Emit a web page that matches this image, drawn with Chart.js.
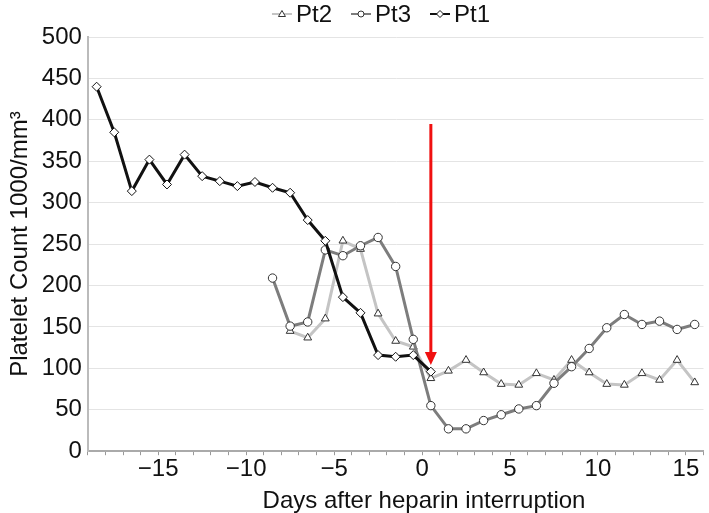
<!DOCTYPE html>
<html>
<head>
<meta charset="utf-8">
<script src="https://cdn.jsdelivr.net/npm/chart.js@4/dist/chart.umd.min.js"></script>
<style>
    html, body { margin: 0; padding: 0; background: #fff; }
    #wrap { width: 709px; height: 513px; }
</style>
</head>
<body>
<div id="wrap"><canvas id="plateletChart" width="709" height="513"></canvas></div>
<script>
// days after heparin interruption
const pt1Days = [-18.5, -17.5, -16.5, -15.5, -14.5, -13.5, -12.5, -11.5, -10.5, -9.5, -8.5, -7.5, -6.5, -5.5, -4.5, -3.5, -2.5, -1.5, -0.5, 0.5];
const pt1Counts = [440, 385, 314, 352, 322, 358, 332, 326, 320, 325, 318, 312, 279, 254, 186, 167, 116, 114, 116, 96];

const pt2Days = [-7.5, -6.5, -5.5, -4.5, -3.5, -2.5, -1.5, -0.5, 0.5, 1.5, 2.5, 3.5, 4.5, 5.5, 6.5, 7.5, 8.5, 9.5, 10.5, 11.5, 12.5, 13.5, 14.5, 15.5];
const pt2Counts = [145, 137, 160, 254, 244, 166, 133, 126, 88, 97, 110, 95, 81, 80, 94, 86, 110, 95, 81, 80, 94, 86, 110, 83];

const pt3Days = [-8.5, -7.5, -6.5, -5.5, -4.5, -3.5, -2.5, -1.5, -0.5, 0.5, 1.5, 2.5, 3.5, 4.5, 5.5, 6.5, 7.5, 8.5, 9.5, 10.5, 11.5, 12.5, 13.5, 14.5, 15.5];
const pt3Counts = [209, 151, 156, 243, 236, 248, 258, 223, 135, 55, 27, 27, 37, 44, 51, 55, 82, 102, 124, 149, 165, 153, 157, 147, 153];

// red arrow marking heparin interruption
const arrowDay = 0.5;
const arrowFrom = 395;
const arrowTo = 104;

const xTitle = 'Days after heparin interruption';
const yTitle = 'Platelet Count 1000/mm\u00b3';

const FONT = 'Liberation Sans, Arial, Helvetica, sans-serif';
const FONT_SIZE = 24;

function toPoints(days, counts) {
    return days.map((d, i) => ({ x: d, y: counts[i] }));
}

const series = [
    { label: 'Pt2', days: pt2Days, counts: pt2Counts, color: '#c4c4c4', edge: '#333', style: 'triangle', radius: 4.5, order: 3 },
    { label: 'Pt3', days: pt3Days, counts: pt3Counts, color: '#7d7d7d', edge: '#333', style: 'circle', radius: 4.2, order: 2 },
    { label: 'Pt1', days: pt1Days, counts: pt1Counts, color: '#111111', edge: '#111', style: 'rectRot', radius: 4.5, order: 1 }
];

function drawMarker(ctx, style, cx, cy) {
    ctx.beginPath();
    if (style === 'triangle') {
        ctx.moveTo(cx, cy - 3.5); ctx.lineTo(cx + 3.5, cy + 2.5); ctx.lineTo(cx - 3.5, cy + 2.5); ctx.closePath();
    } else if (style === 'circle') {
        ctx.arc(cx, cy, 3, 0, Math.PI * 2);
    } else {
        ctx.moveTo(cx, cy - 3.5); ctx.lineTo(cx + 3.5, cy); ctx.lineTo(cx, cy + 3.5); ctx.lineTo(cx - 3.5, cy); ctx.closePath();
    }
    ctx.fill(); ctx.stroke();
}

// legend: short line with marker, then name
const legendPlugin = {
    id: 'lineLegend',
    afterDraw(chart) {
        const ctx = chart.ctx;
        const swatch = 20, gapText = 4, gapItem = 19, cy = 14;
        ctx.save();
        ctx.font = FONT_SIZE + 'px ' + FONT;
        const widths = series.map(s => swatch + gapText + ctx.measureText(s.label).width);
        const total = widths.reduce((a, b) => a + b, 0) + gapItem * (series.length - 1);
        let x = 381 - total / 2;
        series.forEach((s, i) => {
            ctx.strokeStyle = s.color;
            ctx.lineWidth = 2;
            ctx.beginPath(); ctx.moveTo(x, cy); ctx.lineTo(x + swatch, cy); ctx.stroke();
            ctx.fillStyle = '#fff';
            ctx.strokeStyle = s.edge;
            ctx.lineWidth = 1;
            drawMarker(ctx, s.style, x + swatch / 2, cy);
            ctx.fillStyle = '#111';
            ctx.textBaseline = 'middle';
            ctx.textAlign = 'left';
            ctx.fillText(s.label, x + swatch + gapText, cy + 1);
            x += widths[i] + gapItem;
        });
        ctx.restore();
    }
};

// x axis title sits a bit right of the plot centre in the original
const xTitlePlugin = {
    id: 'xTitle',
    afterDraw(chart) {
        const ctx = chart.ctx;
        ctx.save();
        ctx.font = FONT_SIZE + 'px ' + FONT;
        ctx.fillStyle = '#111';
        ctx.textAlign = 'center';
        ctx.textBaseline = 'alphabetic';
        ctx.fillText(xTitle, 424, chart.height - 5);
        ctx.restore();
    }
};

const arrowPlugin = {
    id: 'arrow',
    afterDatasetsDraw(chart) {
        const { ctx, scales: { x, y } } = chart;
        const px = x.getPixelForValue(arrowDay);
        const top = y.getPixelForValue(arrowFrom);
        const tip = y.getPixelForValue(arrowTo);
        ctx.save();
        ctx.strokeStyle = '#f01010';
        ctx.fillStyle = '#f01010';
        ctx.lineWidth = 3;
        ctx.beginPath();
        ctx.moveTo(px, top);
        ctx.lineTo(px, tip - 10);
        ctx.stroke();
        ctx.beginPath();
        ctx.moveTo(px - 6, tip - 13);
        ctx.lineTo(px + 6, tip - 13);
        ctx.lineTo(px, tip);
        ctx.closePath();
        ctx.fill();
        ctx.restore();
    }
};

const ctx = document.getElementById('plateletChart').getContext('2d');
new Chart(ctx, {
    type: 'line',
    data: {
        datasets: series.map(s => ({
            label: s.label,
            data: toPoints(s.days, s.counts),
            borderColor: s.color,
            borderWidth: 3,
            pointStyle: s.style,
            pointRadius: s.radius,
            pointBackgroundColor: '#fff',
            pointBorderColor: s.edge,
            pointBorderWidth: 1,
            tension: 0,
            order: s.order
        }))
    },
    options: {
        responsive: false,
        animation: false,
        layout: { padding: { left: 6, right: 3, top: 37, bottom: 29 } },
        plugins: {
            tooltip: { enabled: false },
            legend: { display: false }
        },
        scales: {
            x: {
                type: 'linear',
                min: -19,
                max: 16,
                afterBuildTicks: axis => {
                    const t = [];
                    for (let v = -19; v <= 16; v++) t.push({ value: v });
                    axis.ticks = t;
                },
                ticks: {
                    autoSkip: false,
                    maxRotation: 0,
                    color: '#111',
                    font: { family: FONT, size: FONT_SIZE },
                    padding: 0,
                    callback: v => (v % 5 === 0 ? (v < 0 ? '\u2212' + Math.abs(v) : String(v)) : '')
                },
                grid: { drawOnChartArea: false, tickLength: 4, color: '#999' },
                border: { color: '#aaa', width: 2 },
                title: { display: false }
            },
            y: {
                min: 0,
                max: 500,
                ticks: {
                    stepSize: 50,
                    color: '#111',
                    font: { family: FONT, size: FONT_SIZE },
                    padding: 6
                },
                grid: { color: '#e4e4e4', lineWidth: 1, drawTicks: false },
                border: { color: '#bbb', width: 2 },
                title: {
                    display: true,
                    text: yTitle,
                    color: '#111',
                    font: { family: FONT, size: FONT_SIZE },
                    padding: { top: 0, bottom: 1 }
                }
            }
        }
    },
    plugins: [arrowPlugin, legendPlugin, xTitlePlugin]
});
</script>
</body>
</html>
